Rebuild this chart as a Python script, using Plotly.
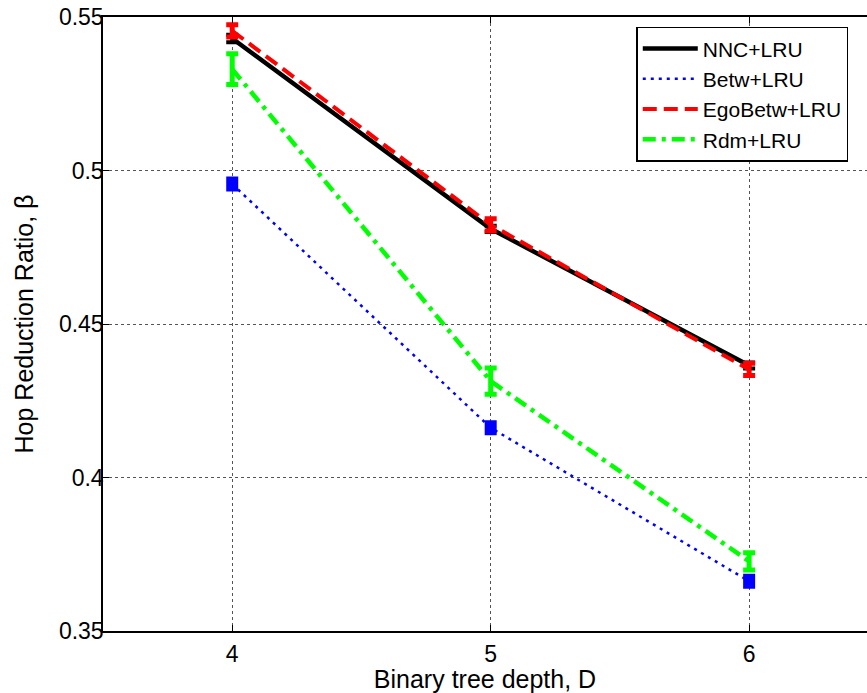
import plotly.graph_objects as go

depth = [4, 5, 6]
nnc = [0.5430, 0.4810, 0.4365]
nnc_err = [0.0012, 0.0010, 0.0010]
betw = [0.4956, 0.4162, 0.3662]
betw_err = [0.0012, 0.0012, 0.0012]
ego = [0.5455, 0.4823, 0.4352]
ego_err = [0.0020, 0.0020, 0.0020]
rdm = [0.5330, 0.4314, 0.3727]
rdm_err = [0.0050, 0.0043, 0.0028]

fig = go.Figure()

def add(name, y, err, color, dash, width, ethick):
    fig.add_trace(go.Scatter(
        x=depth, y=y, name=name, mode="lines",
        line=dict(color=color, dash=dash, width=width),
        error_y=dict(type="data", array=err, visible=True, color=color,
                     thickness=ethick, width=6),
    ))

add("NNC+LRU", nnc, nnc_err, "black", "solid", 4.5, 4)
add("Betw+LRU", betw, betw_err, "blue", "3px,5px", 2.5, 7.5)
add("EgoBetw+LRU", ego, ego_err, "red", "14px,7px", 4, 5)
add("Rdm+LRU", rdm, rdm_err, "#00ff00", "13px,6px,4px,6px", 4.5, 5)

font = "Liberation Sans, Arial, sans-serif"
fig.update_layout(
    width=867, height=693,
    margin=dict(l=103, r=0, t=17, b=62),
    paper_bgcolor="white", plot_bgcolor="white",
    font=dict(family=font, size=23, color="black"),
    showlegend=True,
    legend=dict(x=0.698, y=0.984, xanchor="left", yanchor="top",
                bgcolor="white", bordercolor="black", borderwidth=1.5,
                font=dict(size=21, family=font), tracegroupgap=0,
                itemwidth=55),
    xaxis=dict(range=[3.5, 6.456], tickvals=[4, 5, 6], ticktext=["4", "5", "6"],
               showline=True, linecolor="black", linewidth=1.5, mirror="ticks",
               ticks="inside", ticklen=6, tickcolor="black", ticklabelstandoff=2,
               showgrid=True, gridcolor="#555555", griddash="dot", gridwidth=1,
               zeroline=False,
               title=dict(text="Binary tree depth, D", font=dict(size=25), standoff=2)),
    yaxis=dict(range=[0.35, 0.55], tickvals=[0.35, 0.4, 0.45, 0.5, 0.55],
               ticktext=["0.35", "0.4", "0.45", "0.5", "0.55"],
               showline=True, linecolor="black", linewidth=1.5, mirror=False,
               ticks="inside", ticklen=6, tickcolor="black", ticklabelstandoff=-7,
               showgrid=True, gridcolor="#555555", griddash="dot", gridwidth=1,
               zeroline=False,
               title=dict(text="Hop Reduction Ratio, \u03b2", font=dict(size=25), standoff=18)),
)

fig.write_html("out.html")
